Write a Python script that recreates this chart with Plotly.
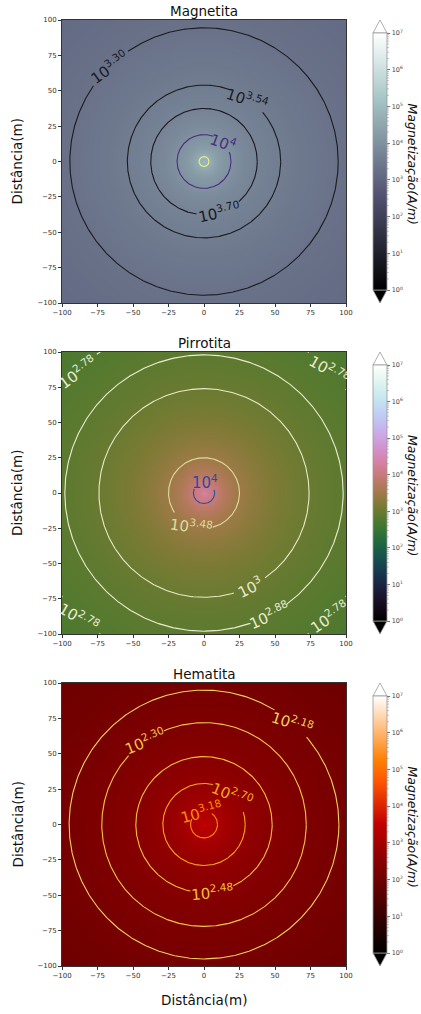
import numpy as np
import plotly.graph_objects as go

W, H = 421, 1014

# ---------------- data ----------------
titles = ["Magnetita", "Pirrotita", "Hematita"]
axis_ticks = [-100, -75, -50, -25, 0, 25, 50, 75, 100]
cbar_exponents = [0, 1, 2, 3, 4, 5, 6, 7]

# radial profiles: distance from the source (m) and log10 of magnetization (A/m)
mag_dist = [0, 3.5, 19, 37.5, 54, 94.5, 141.5]
mag_logM = [4.95, 4.70, 4.00, 3.70, 3.54, 3.30, 3.13]
pir_dist = [0, 7.5, 25, 74, 98, 124, 141.5]
pir_logM = [4.45, 4.00, 3.48, 3.00, 2.88, 2.78, 2.72]
hem_dist = [0, 9.5, 29, 48, 72, 95, 141.5]
hem_logM = [3.65, 3.18, 2.70, 2.48, 2.30, 2.18, 2.01]

# contour levels (log10 A/m) and their label exponents
mag_levels = [3.30, 3.54, 3.70, 4.00, 4.70]
mag_level_text = ["3.30", "3.54", "3.70", "4", ""]
pir_levels = [2.78, 2.88, 3.00, 3.48, 4.00]
pir_level_text = ["2.78", "2.88", "3", "3.48", "4"]
hem_levels = [2.18, 2.30, 2.48, 2.70, 3.18]
hem_level_text = ["2.18", "2.30", "2.48", "2.70", "3.18"]

# ---------------- styles ----------------
FONT = "DejaVu Sans"
# per level: line colour, list of labels (angle on circle deg, gap half-angle deg, text angle deg)
mag_style = [
    ("#1b1b1f", [(135, 10, -36)]),
    ("#1b1b1f", [(55, 14.5, 18)]),
    ("#1c1622", [(-73.5, 24, -12)]),
    ("#4a2c82", [(45, 24, 20)]),
    ("#eef07a", []),
]
pir_style = [
    ("#ecebd2", [(136, 8, -36), (45, 8, 30), (-135, 8, 30), (-45, 8, -34)]),
    ("#ecebd2", [(-62, 8, -24)]),
    ("#ebe9c8", [(-64, 9, -26)]),
    ("#d9de9e", [(-111, 35, 8)]),
    ("#2d4c9a", [(87, 69, 0)]),
]
hem_style = [
    ("#eed45c", [(49.5, 8.5, 18)]),
    ("#efc84a", [(125.4, 12, -22)]),
    ("#f2c23a", [(-83, 18, -5)]),
    ("#f6aa1a", [(47.5, 29.5, 22)]),
    ("#f88e08", [(105, 50, -15)]),
]

plot_left, plot_right = 62, 346
tops = [20, 352, 683]
bottoms = [303, 634, 966]
cb_left, cb_thick = 373, 14
arrow_len = 13


def px_x(p):
    return p / W


def px_y(p):
    return 1 - p / H


# ---------------- colormaps ----------------
def bone(x):
    r = np.interp(x, [0, 0.746032, 1], [0, 0.652778, 1])
    g = np.interp(x, [0, 0.365079, 0.746032, 1], [0, 0.319444, 0.777778, 1])
    b = np.interp(x, [0, 0.365079, 1], [0, 0.444444, 1])
    return r, g, b


def gist_heat(x):
    return (np.clip(1.5 * x, 0, 1), np.clip(2 * x - 1, 0, 1), np.clip(4 * x - 3, 0, 1))


def cubehelix(x, s=0.5, rot=-1.5, hue=1.0):
    a = hue * x * (1 - x) / 2
    phi = 2 * np.pi * (s / 3 + rot * x)
    r = x + a * (-0.14861 * np.cos(phi) + 1.78277 * np.sin(phi))
    g = x + a * (-0.29227 * np.cos(phi) - 0.90649 * np.sin(phi))
    b = x + a * (1.97294 * np.cos(phi))
    return np.clip(r, 0, 1), np.clip(g, 0, 1), np.clip(b, 0, 1)


def make_scale(fn, n=64):
    out = []
    for i in range(n + 1):
        t = i / n
        r, g, b = fn(t)
        out.append([t, "rgb(%d,%d,%d)" % (round(float(r) * 255), round(float(g) * 255), round(float(b) * 255))])
    return out


scales = [make_scale(bone), make_scale(cubehelix), make_scale(gist_heat)]

profiles = [(mag_dist, mag_logM), (pir_dist, pir_logM), (hem_dist, hem_logM)]
levels_all = [(mag_levels, mag_level_text, mag_style),
              (pir_levels, pir_level_text, pir_style),
              (hem_levels, hem_level_text, hem_style)]

fig = go.Figure()

grid = np.linspace(-100, 100, 201)
GX, GY = np.meshgrid(grid, grid)
GR = np.hypot(GX, GY)

annotations = []
shapes = []
layout = dict()

cb_vals = list(cbar_exponents)
cb_text = ["10<sup>%d</sup>" % e for e in cbar_exponents]
minor_vals = [e + float(np.log10(m)) for e in cbar_exponents[:-1] for m in range(2, 10)]

for i in range(3):
    sfx = "" if i == 0 else str(i + 1)
    xa, ya = "x" + sfx, "y" + sfx
    dist, logM = profiles[i]
    d = np.log10(np.array(dist) + 1.0)
    Z = np.interp(np.log10(GR + 1.0), d, np.array(logM))
    Z = np.round(Z, 4)

    fig.add_trace(go.Heatmap(x=grid, y=grid, z=Z, coloraxis="coloraxis" + sfx,
                             zsmooth="best", xaxis=xa, yaxis=ya, hoverinfo="skip"))

    # contour rings derived from the profile
    lv, lt, st = levels_all[i]
    for level, txt, (col, labels) in zip(lv, lt, st):
        radius = float(np.interp(level, np.array(logM)[::-1], np.array(dist)[::-1]))
        th = np.arange(0, 360.25, 0.5)
        vis = np.ones_like(th, dtype=bool)
        for (ang, gap, _ta) in labels:
            diff = (th - ang + 180) % 360 - 180
            vis &= np.abs(diff) > gap
        xs, ys = [], []
        prev = False
        for t, v in zip(th, vis):
            if v:
                xs.append(radius * np.cos(np.radians(t)))
                ys.append(radius * np.sin(np.radians(t)))
            elif prev:
                xs.append(None)
                ys.append(None)
            prev = v
        fig.add_trace(go.Scatter(x=xs, y=ys, mode="lines", line=dict(color=col, width=1.1),
                                 xaxis=xa, yaxis=ya, hoverinfo="skip", showlegend=False))
        for (ang, gap, ta) in labels:
            annotations.append(dict(
                x=radius * np.cos(np.radians(ang)), y=radius * np.sin(np.radians(ang)),
                xref=xa, yref=ya, text="10<sup>%s</sup>" % txt, showarrow=False,
                textangle=ta, font=dict(size=15, color=col, family=FONT),
                xanchor="center", yanchor="middle"))

    top, bot = tops[i], bottoms[i]
    layout["xaxis" + sfx] = dict(
        domain=[px_x(plot_left), px_x(plot_right)], anchor=ya, range=[-100, 100],
        tickvals=axis_ticks, ticks="outside", ticklen=3, tickwidth=0.8, tickcolor="#333",
        tickfont=dict(size=7, color="#333", family=FONT), showgrid=False, zeroline=False,
        showline=True, linecolor="#333", linewidth=0.8, mirror=True, automargin=False)
    layout["yaxis" + sfx] = dict(
        domain=[px_y(bot), px_y(top)], anchor=xa, range=[-100, 100],
        tickvals=axis_ticks, ticks="outside", ticklen=3, tickwidth=0.8, tickcolor="#333",
        tickfont=dict(size=7, color="#333", family=FONT), showgrid=False, zeroline=False,
        showline=True, linecolor="#333", linewidth=0.8, mirror=True, automargin=False)

    cb_top, cb_bot = top + arrow_len, bot - arrow_len
    layout["coloraxis" + sfx] = dict(
        cmin=cbar_exponents[0], cmax=cbar_exponents[-1], colorscale=scales[i],
        colorbar=dict(x=px_x(cb_left), xanchor="left", thickness=cb_thick, thicknessmode="pixels",
                      lenmode="pixels", len=cb_bot - cb_top, y=px_y((cb_top + cb_bot) / 2),
                      yanchor="middle", xpad=0, ypad=0, outlinewidth=0.8, outlinecolor="#999",
                      tickmode="array", tickvals=cb_vals, ticktext=cb_text, ticks="outside", ticklen=3.5,
                      tickwidth=0.7, tickcolor="#777",
                      tickfont=dict(size=6.5, color="#444", family=FONT)))

    # minor ticks of the log colour bar
    cbx = cb_left + cb_thick
    for v in minor_vals:
        yy = cb_bot - (v - cbar_exponents[0]) / (cbar_exponents[-1] - cbar_exponents[0]) * (cb_bot - cb_top)
        shapes.append(dict(type="line", xref="paper", yref="paper",
                           x0=px_x(cbx), x1=px_x(cbx + 2), y0=px_y(yy), y1=px_y(yy),
                           line=dict(color="#888", width=0.5)))

    # extension triangles of the colour bar
    xl, xr = px_x(cb_left), px_x(cb_left + cb_thick)
    xc = (xl + xr) / 2
    shapes.append(dict(type="path", xref="paper", yref="paper",
                       path="M %f,%f L %f,%f L %f,%f Z" % (xl, px_y(cb_top), xr, px_y(cb_top), xc, px_y(top)),
                       fillcolor=scales[i][-1][1], line=dict(color="#999", width=0.8)))
    shapes.append(dict(type="path", xref="paper", yref="paper",
                       path="M %f,%f L %f,%f L %f,%f Z" % (xl, px_y(cb_bot), xr, px_y(cb_bot), xc, px_y(bot)),
                       fillcolor=scales[i][0][1], line=dict(color="#999", width=0.8)))

    mid = (top + bot) / 2
    annotations.append(dict(x=px_x((plot_left + plot_right) / 2), y=px_y(top - 9), xref="paper", yref="paper",
                            text=titles[i], showarrow=False, xanchor="center", yanchor="middle",
                            font=dict(size=13.5, color="#111", family=FONT)))
    annotations.append(dict(x=px_x(17), y=px_y(mid), xref="paper", yref="paper",
                            text="Distância(m)", showarrow=False, textangle=-90,
                            xanchor="center", yanchor="middle",
                            font=dict(size=13.5, color="#111", family=FONT)))
    annotations.append(dict(x=px_x(412), y=px_y(mid + 2), xref="paper", yref="paper",
                            text="<i>Magnetização(A/m)</i>", showarrow=False, textangle=90,
                            xanchor="center", yanchor="middle",
                            font=dict(size=12.5, color="#111", family=FONT)))

annotations.append(dict(x=px_x((plot_left + plot_right) / 2), y=px_y(1000), xref="paper", yref="paper",
                        text="Distância(m)", showarrow=False, xanchor="center", yanchor="middle",
                        font=dict(size=13.5, color="#111", family=FONT)))

fig.update_layout(
    width=W, height=H, margin=dict(l=0, r=0, t=0, b=0, autoexpand=False),
    paper_bgcolor="white", plot_bgcolor="white", showlegend=False,
    font=dict(family=FONT), annotations=annotations, shapes=shapes, **layout)

fig.write_html("out.html", config={"displayModeBar": False},
               post_script="document.body.style.margin='0';document.body.style.overflow='hidden';")
